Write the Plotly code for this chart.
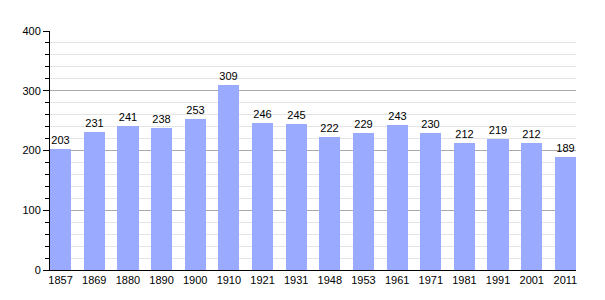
import plotly.graph_objects as go

years = ["1857", "1869", "1880", "1890", "1900", "1910", "1921", "1931",
         "1948", "1953", "1961", "1971", "1981", "1991", "2001", "2011"]
population = [203, 231, 241, 238, 253, 309, 246, 245, 222, 229, 243, 230, 212, 219, 212, 189]

fig = go.Figure()
fig.add_trace(go.Bar(
    x=list(range(len(years))),
    y=population,
    width=0.63,
    marker=dict(color="rgb(153,170,255)", line=dict(width=0)),
    text=[str(v) for v in population],
    textposition="outside",
    textfont=dict(family="Liberation Sans, Arial", size=11, color="black"),
    cliponaxis=False,
))

fig.update_layout(
    width=605, height=300,
    margin=dict(l=50, r=29, t=31, b=30),
    paper_bgcolor="white", plot_bgcolor="white",
    showlegend=False,
    font=dict(family="Liberation Sans, Arial", size=11, color="black"),
    bargap=0,
)
fig.update_xaxes(
    tickmode="array",
    tickvals=list(range(len(years))),
    ticktext=years,
    range=[-0.315, len(years) - 1 + 0.315],
    showline=True, linecolor="black", linewidth=1,
    showgrid=False, ticks="", zeroline=False,
    tickfont=dict(size=11),
)
fig.update_yaxes(
    range=[0, 400],
    dtick=100,
    showline=True, linecolor="black", linewidth=1,
    showgrid=True, gridcolor="#aaaaaa", gridwidth=1,
    ticks="outside", ticklen=6, tickcolor="black",
    minor=dict(dtick=20, showgrid=True, gridcolor="#e4e4e4", ticks="outside", ticklen=4, tickcolor="black"),
    zeroline=False,
    tickfont=dict(size=11),
)

fig.write_html("out.html")
